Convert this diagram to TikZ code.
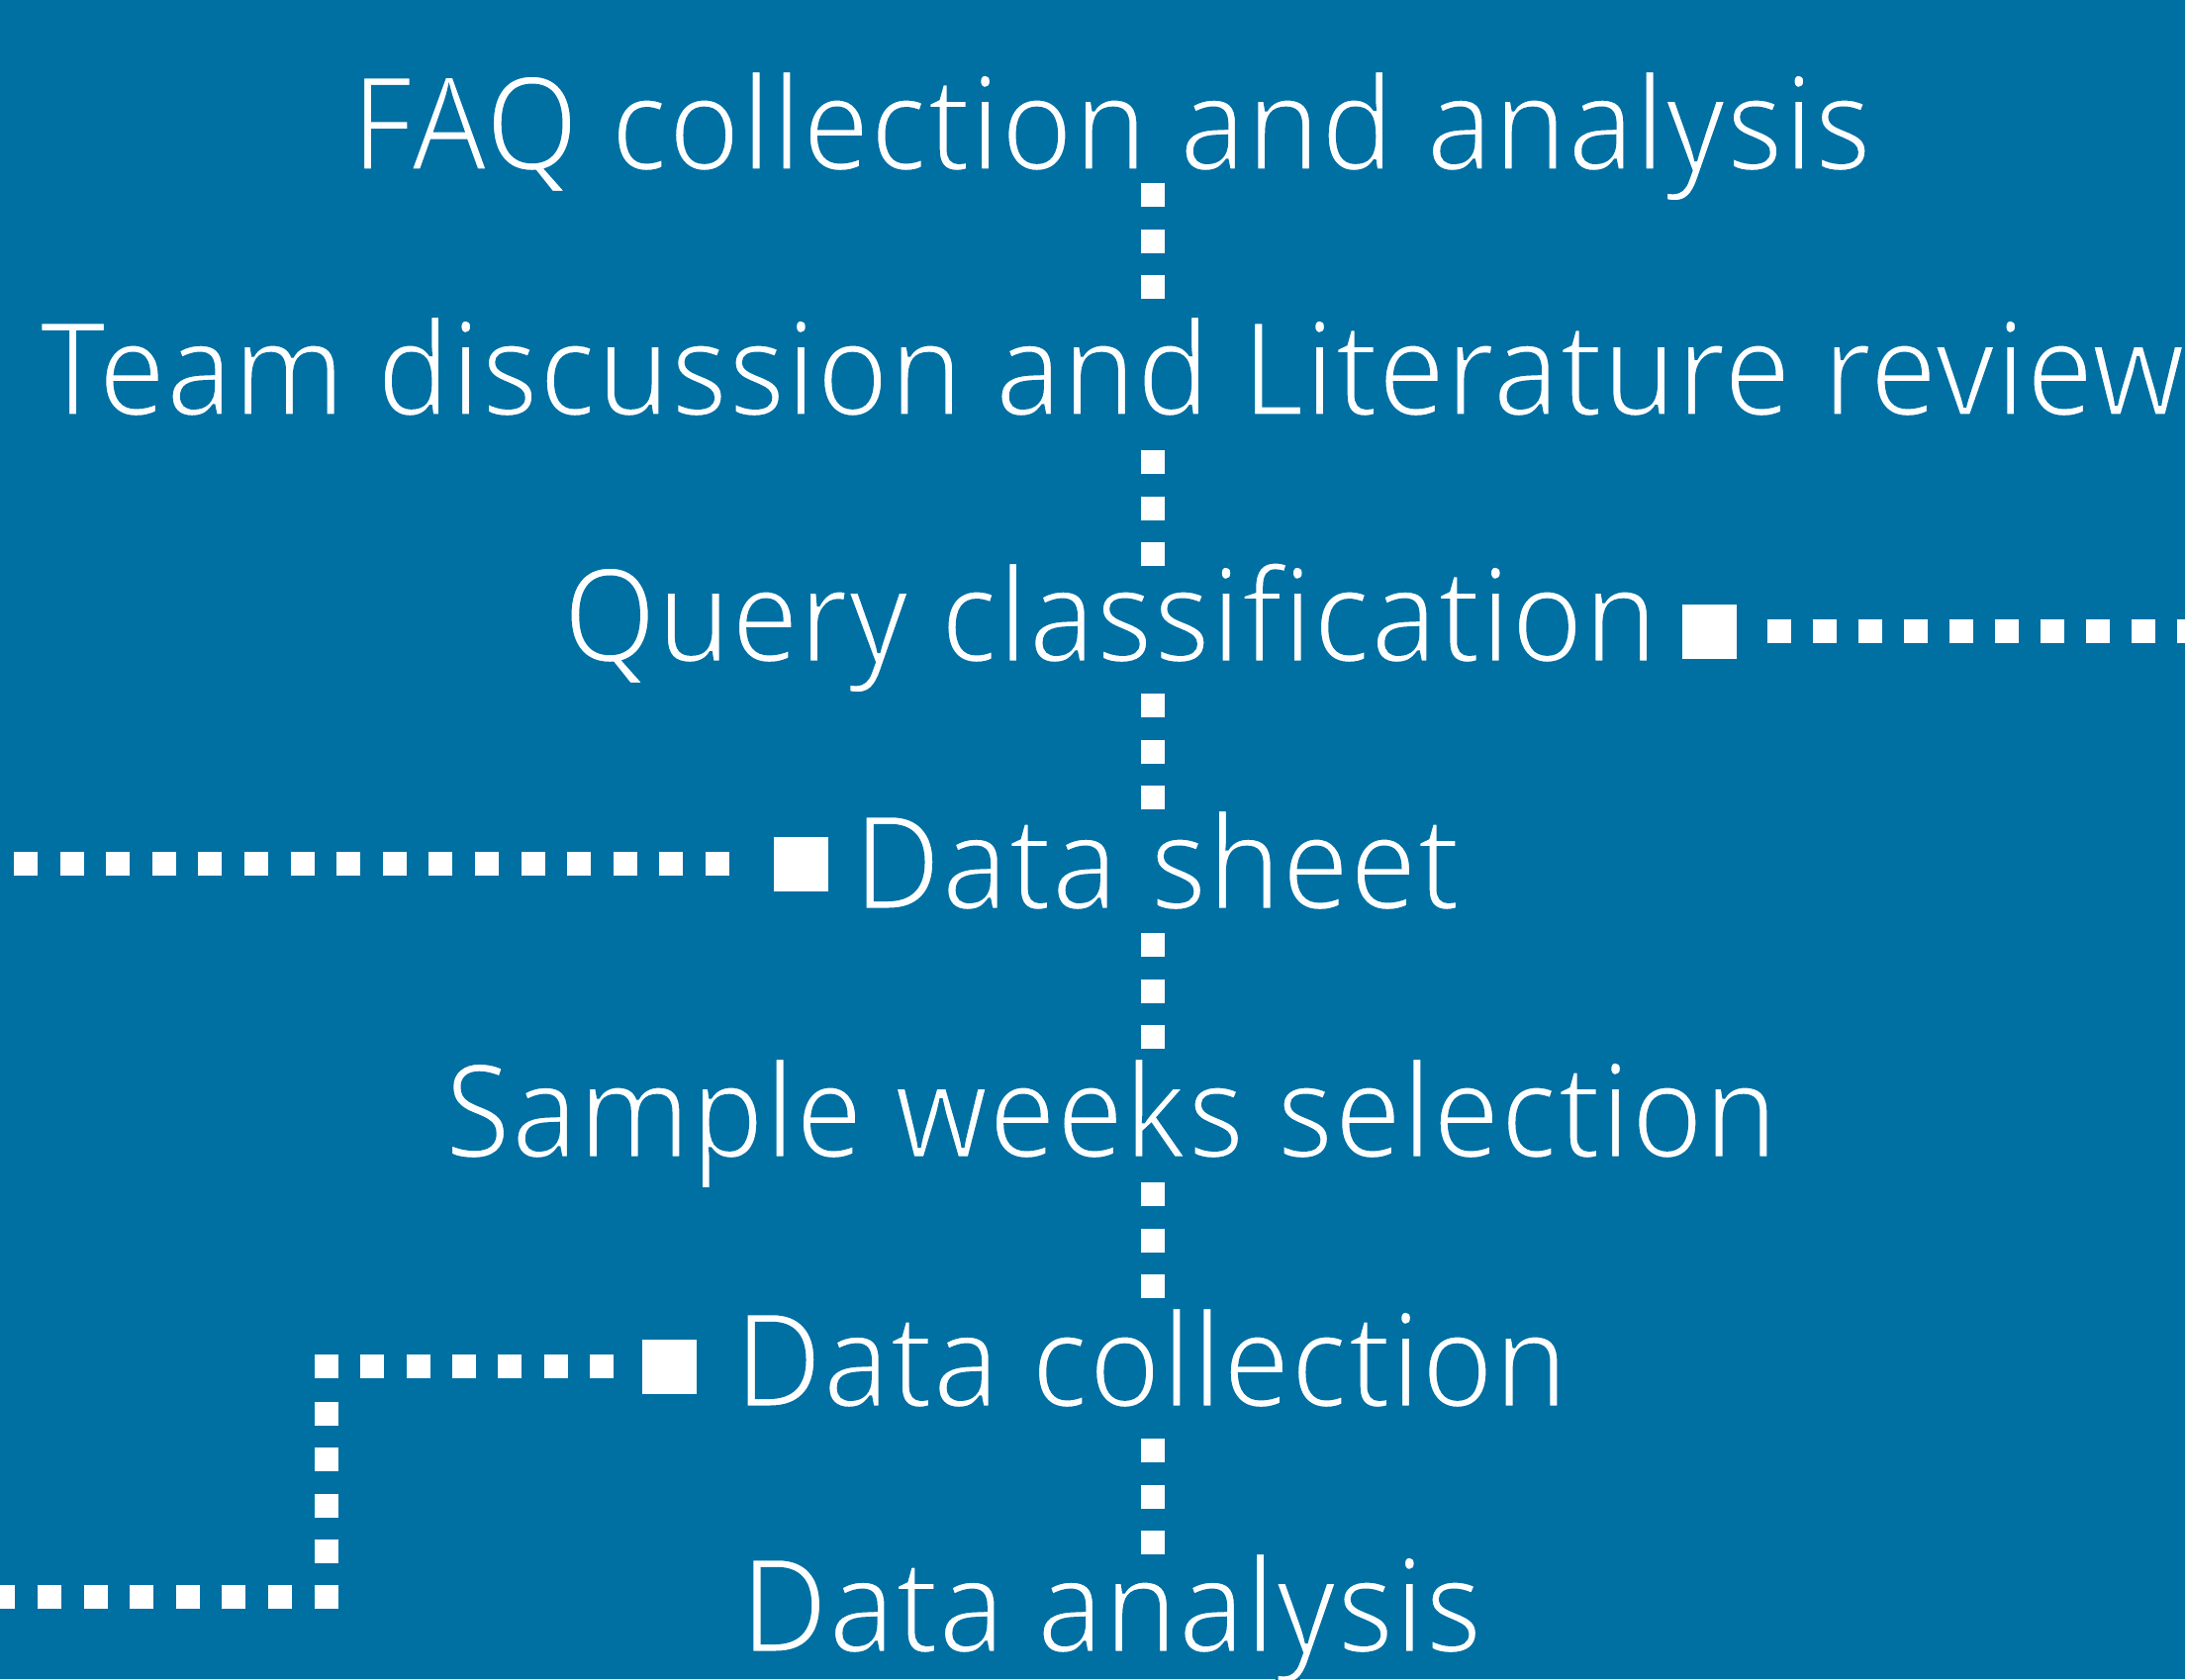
\documentclass[tikz,border=0pt]{standalone}
\usepackage{fontspec}
\setmainfont{Open Sans}[FakeStretch=0.925]
\definecolor{bg}{RGB}{0,112,163}
\newcommand\thinglyphs{\special{pdf:literal direct 2 Tr 3 w 0 0.439 0.639 RG}}
\begin{document}
\begin{tikzpicture}[x=1pt,y=-1pt,
  lbl/.style={text=white, font=\fontsize{132}{140}\selectfont, inner sep=0pt, anchor=base},
  lblw/.style={lbl, anchor=base west},
  dots/.style={draw=white, line width=24pt, dash pattern=on 24pt off 22.5pt},
  bigsq/.style={fill=white, minimum size=55pt, inner sep=0pt, outer sep=0pt}]
\fill[bg] (0,0) rectangle (2208,1697);
\useasboundingbox (0,0) rectangle (2208,1697);
% text nodes
\node[lbl] (faq) at (1123,172) {\thinglyphs FAQ collection and analysis};
\node[lbl] (team) at (1124,420) {\thinglyphs Team discussion and Literature review};
\node[lbl] (query) at (1122,669) {\thinglyphs Query classification};
\node[lblw] (sheet) at (862,919) {\thinglyphs Data sheet};
\node[lbl] (sample) at (1123,1170) {\thinglyphs Sample weeks selection};
\node[lblw] (collect) at (742,1422) {\thinglyphs Data collection};
\node[lbl] (analysis) at (1123,1670) {\thinglyphs Data analysis};
% big squares
\node[bigsq] (sqq) at (1727,638) {};
\node[bigsq] (sqs) at (809,873) {};
\node[bigsq] (sqc) at (676,1381) {};
% vertical dotted spine
\foreach \t/\n in {185/a,455/b,701/c,943/d,1195/e,1454/f}{
  \coordinate (v\n1) at (1165,\t);
  \coordinate (v\n2) at (1165,\t+117);
  \draw[dots] (v\n1) -- (v\n2);
}
% right row from Query classification
\coordinate (qr) at (2240,638);
\draw[dots, dash pattern=on 24pt off 22pt] (sqq.east) ++(31,0) coordinate (qs) (qs) -- (qr);
% left row into Data sheet
\coordinate (sl) at (-30,873);
\draw[dots, dash pattern=on 24pt off 22.6pt] (sqs.west) ++(-44.5,0) coordinate (ss) (ss) -- (sl);
% L-shaped row into Data collection
\coordinate (c1) at (620,1381);
\coordinate (c2) at (318,1381);
\coordinate (c3) at (330,1417);
\coordinate (c4) at (330,1626);
\coordinate (c5) at (295,1614);
\coordinate (c6) at (-30,1614);
\draw[dots, dash pattern=on 24pt off 22.33pt] (c1) -- (c2);
\draw[dots, dash pattern=on 24pt off 22.25pt] (c3) -- (c4);
\draw[dots, dash pattern=on 24pt off 22.6pt] (c5) -- (c6);
\end{tikzpicture}
\end{document}
